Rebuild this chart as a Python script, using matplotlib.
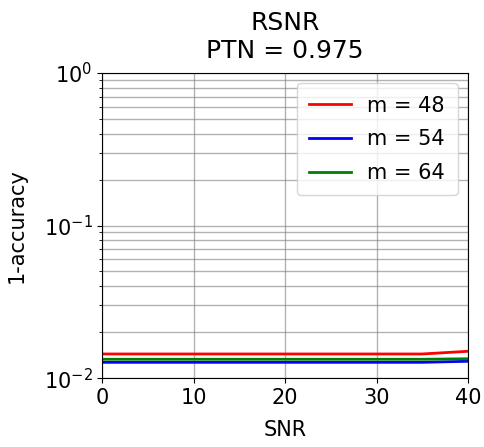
import numpy as np
import matplotlib.pyplot as plt

snr = [0, 5, 10, 15, 20, 25, 30, 35, 40]
err_m48 = [0.0144, 0.0144, 0.0144, 0.0144, 0.0144, 0.0144, 0.0144, 0.0144, 0.0150]
err_m54 = [0.0127, 0.0127, 0.0127, 0.0127, 0.0127, 0.0127, 0.0127, 0.0127, 0.0129]
err_m64 = [0.0133, 0.0133, 0.0133, 0.0133, 0.0133, 0.0133, 0.0133, 0.0133, 0.0134]

plt.rcParams['font.size'] = 15
fig = plt.figure(figsize=(4.84, 4.47), dpi=100)
ax = fig.add_axes([0.211, 0.154, 0.756, 0.683])

ax.semilogy(snr, err_m48, color='red', linewidth=2, label='m = 48')
ax.semilogy(snr, err_m54, color='blue', linewidth=2, label='m = 54')
ax.semilogy(snr, err_m64, color='green', linewidth=2, label='m = 64')

ax.set_xlim(0, 40)
ax.set_ylim(1e-2, 1)
ax.grid(True, which='major', color='gray', alpha=0.6, linewidth=1)
ax.grid(True, which='minor', axis='y', color='gray', alpha=0.6, linewidth=1)
ax.set_xlabel('SNR', labelpad=9)
ax.set_ylabel('1-accuracy', labelpad=12)
ax.set_title('RSNR\nPTN = 0.975', pad=11)
ax.legend(loc='upper right', borderpad=0.6, labelspacing=0.65)

fig.savefig('out.png', dpi=100)
